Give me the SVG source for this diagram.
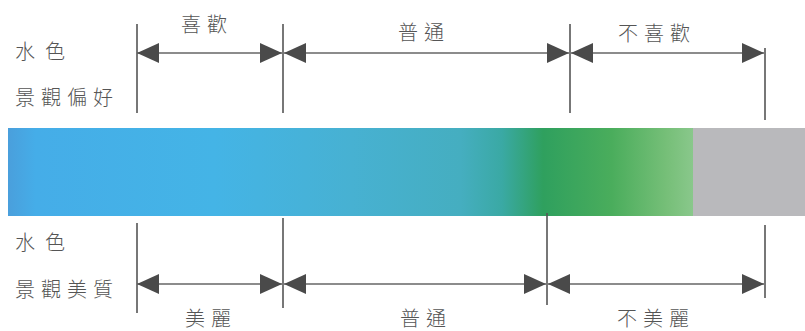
<svg xmlns="http://www.w3.org/2000/svg" width="805" height="331" viewBox="0 0 805 331">
  <defs>
    <linearGradient id="water" x1="0" y1="0" x2="1" y2="0">
      <stop offset="0" stop-color="#4a9fdc"/>
      <stop offset="0.04" stop-color="#45ade8"/>
      <stop offset="0.3" stop-color="#44b4e6"/>
      <stop offset="0.5" stop-color="#47b1d2"/>
      <stop offset="0.66" stop-color="#45aec0"/>
      <stop offset="0.72" stop-color="#3aa9a4"/>
      <stop offset="0.78" stop-color="#2fa05e"/>
      <stop offset="0.88" stop-color="#4aad5c"/>
      <stop offset="0.96" stop-color="#76bf78"/>
      <stop offset="1" stop-color="#8ac88c"/>
    </linearGradient>
    <marker id="ah" viewBox="0 0 22 20" refX="22" refY="10" markerWidth="22" markerHeight="20" markerUnits="userSpaceOnUse" orient="auto-start-reverse">
      <path d="M0,0 L22,10 L0,20 Z" fill="#4a4a4a"/>
    </marker>
    <style>
      .t { font-family: "Noto Sans CJK TC", "Noto Sans CJK SC", sans-serif; font-size: 20px; fill: #555; font-weight: 300; }
      .v { stroke: #555; stroke-width: 1.6; fill: none; }
      .d { stroke: #666; stroke-width: 1.6; fill: none; }
    </style>
  </defs>

  <g id="bar">
    <rect x="8" y="128" width="686" height="88" fill="url(#water)"/>
    <rect x="693" y="128" width="112" height="88" fill="#b9b9bc"/>
  </g>

  <g id="top-labels">
    <text class="t" x="15" y="59" style="letter-spacing:10px">水色</text>
    <text class="t" x="15" y="105" style="letter-spacing:6px">景觀偏好</text>
  </g>
  <g id="bottom-labels">
    <text class="t" x="15" y="250" style="letter-spacing:10px">水色</text>
    <text class="t" x="15" y="297" style="letter-spacing:6px">景觀美質</text>
  </g>

  <g id="connectors">
    <line class="v" x1="137" y1="24" x2="137" y2="113"/>
    <line class="v" x1="283" y1="24" x2="283" y2="113"/>
    <line class="v" x1="570" y1="24" x2="570" y2="113"/>
    <line class="v" x1="765" y1="48" x2="765" y2="120"/>
    <line class="d" x1="137" y1="53" x2="282" y2="53" marker-start="url(#ah)" marker-end="url(#ah)"/>
    <line class="d" x1="284" y1="53" x2="569" y2="53" marker-start="url(#ah)" marker-end="url(#ah)"/>
    <line class="d" x1="571" y1="53" x2="764" y2="53" marker-start="url(#ah)" marker-end="url(#ah)"/>

    <line class="v" x1="137" y1="223" x2="137" y2="313"/>
    <line class="v" x1="283" y1="218" x2="283" y2="308"/>
    <line class="v" x1="547" y1="213" x2="547" y2="305"/>
    <line class="v" x1="765" y1="225" x2="765" y2="298"/>
    <line class="d" x1="137" y1="284" x2="282" y2="284" marker-start="url(#ah)" marker-end="url(#ah)"/>
    <line class="d" x1="284" y1="284" x2="546" y2="284" marker-start="url(#ah)" marker-end="url(#ah)"/>
    <line class="d" x1="548" y1="284" x2="764" y2="284" marker-start="url(#ah)" marker-end="url(#ah)"/>
  </g>

  <g id="like">
    <text class="t" x="181" y="32" style="letter-spacing:6px">喜歡</text>
  </g>
  <g id="neutral-top">
    <text class="t" x="398" y="40" style="letter-spacing:6px">普通</text>
  </g>
  <g id="dislike">
    <text class="t" x="618" y="41" style="letter-spacing:6px">不喜歡</text>
  </g>
  <g id="beautiful">
    <text class="t" x="185" y="326" style="letter-spacing:6px">美麗</text>
  </g>
  <g id="neutral-bottom">
    <text class="t" x="400" y="326" style="letter-spacing:6px">普通</text>
  </g>
  <g id="not-beautiful">
    <text class="t" x="617" y="326" style="letter-spacing:6px">不美麗</text>
  </g>
</svg>
